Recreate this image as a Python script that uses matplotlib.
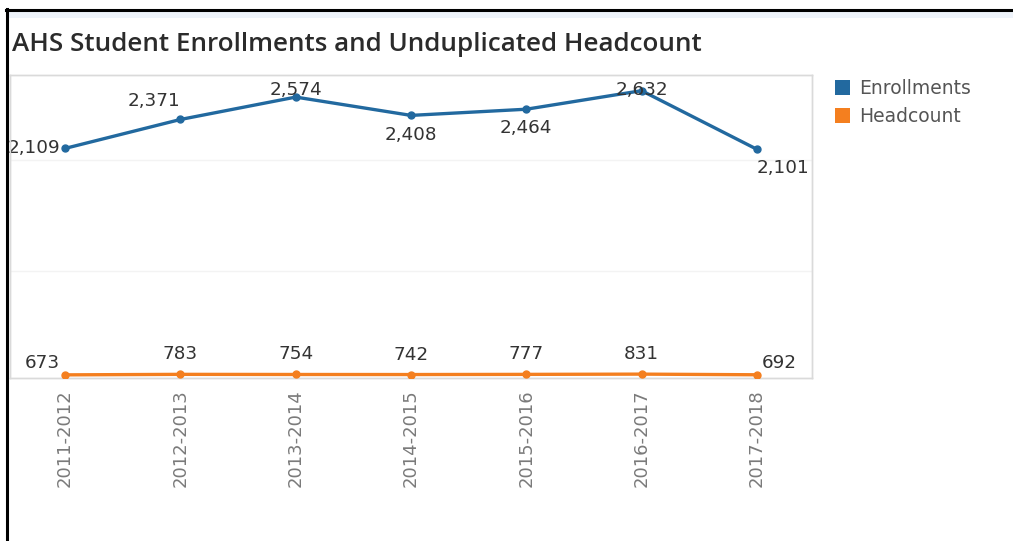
import matplotlib
matplotlib.use('Agg')
import matplotlib.pyplot as plt
from matplotlib.patches import Rectangle
from matplotlib.lines import Line2D

# ---- data ----
years = ['2011-2012', '2012-2013', '2013-2014', '2014-2015',
         '2015-2016', '2016-2017', '2017-2018']
enrollments = [2109, 2371, 2574, 2408, 2464, 2632, 2101]
headcount = [673, 783, 754, 742, 777, 831, 692]
series_names = ['Enrollments', 'Headcount']
title = 'AHS Student Enrollments and Unduplicated Headcount'

# ---- styling / layout ----
W, H = 1013, 541
BLUE = '#22699f'
ORANGE = '#f47f1f'
LBL = '#333333'

# label offsets (pixels, y up) and alignment
enr_off = [(-5, 0, 'right'), (-26, 18, 'center'), (0, 7, 'center'), (0, -20, 'center'),
           (0, -19, 'center'), (0, 1, 'center'), (0, -19, 'left')]
hc_off = [(-5, 12, 'right'), (0, 20, 'center'), (0, 20, 'center'), (0, 20, 'center'),
          (0, 20, 'center'), (0, 20, 'center'), (5, 12, 'left')]

fig = plt.figure(figsize=(W / 100, H / 100), dpi=100)
fig.patch.set_facecolor('white')


def fx(px):
    return px / W


def fy(py):
    return 1 - py / H


ax = fig.add_axes([fx(10), fy(378), (812 - 10) / W, (378 - 75) / H])
ax2 = ax.twinx()
x = list(range(len(years)))

ax.plot(x, enrollments, color=BLUE, lw=2.4, marker='o', ms=5, zorder=3,
        solid_capstyle='round')
ax2.plot(x, headcount, color=ORANGE, lw=2.4, marker='o', ms=5, zorder=3,
         solid_capstyle='round')

ax.set_xlim(-0.478, 6.478)
ax.set_ylim(29, 2774)
ax2.set_ylim(0, 65000)

ax.set_yticks([1000, 2000])
ax.yaxis.grid(True, color='#f3f3f3', lw=1)
ax.tick_params(axis='y', length=0, labelleft=False)
ax2.set_yticks([])
ax.set_xticks(x)
ax.set_xticklabels(years, rotation=90, fontsize=13, color='#7a7a7a')
ax.tick_params(axis='x', length=0, pad=8)
for a in (ax, ax2):
    for s in a.spines.values():
        s.set_color('#dadada')
        s.set_linewidth(1)

for xi, v, (dx, dy, ha) in zip(x, enrollments, enr_off):
    ax.annotate(f'{v:,}', (xi, v), xytext=(dx, dy), textcoords='offset pixels',
                ha=ha, va='center', fontsize=13.2, color=LBL, zorder=5)
for xi, v, (dx, dy, ha) in zip(x, headcount, hc_off):
    ax2.annotate(f'{v:,}', (xi, v), xytext=(dx, dy), textcoords='offset pixels',
                 ha=ha, va='center', fontsize=13.2, color=LBL, zorder=5)

# title
t = fig.text(fx(12), fy(45), title, fontsize=15, family='Open Sans',
             weight='semibold', color='#2b2b2b', va='center', ha='left')
fig.canvas.draw()
wpx = t.get_window_extent().width
t.set_fontsize(15 * 691 / wpx)

# legend
for i, (name, col) in enumerate(zip(series_names, [BLUE, ORANGE])):
    y0 = 80 + i * 28
    fig.add_artist(Rectangle((fx(835), fy(y0 + 15)), 15 / W, 15 / H,
                             transform=fig.transFigure, color=col, lw=0))
    fig.text(fx(859), fy(y0 + 8), name, fontsize=13.5, color='#555555',
             va='center', ha='left')

# frame lines
fig.add_artist(Rectangle((fx(8), fy(18)), 1, 7 / H, transform=fig.transFigure,
                         color='#eef3fa', lw=0))
fig.add_artist(Line2D([fx(7), fx(7)], [fy(9), 0], color='black', lw=2.2,
                      transform=fig.transFigure))
fig.add_artist(Line2D([fx(6), 1], [fy(10), fy(10)], color='black', lw=2.2,
                      transform=fig.transFigure))

fig.savefig('out.png', dpi=100)
